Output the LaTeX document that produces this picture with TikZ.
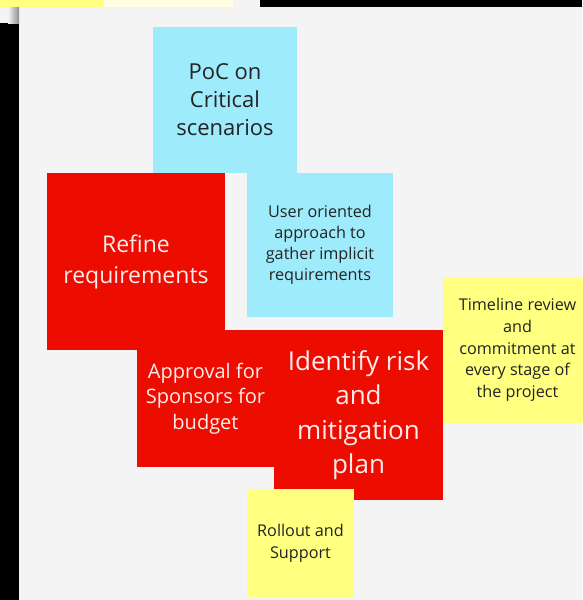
\documentclass[tikz,border=0pt]{standalone}
\usepackage{fontspec}
\setmainfont{Open Sans}

\definecolor{boardgray}{RGB}{244,244,244}
\definecolor{notecyan}{RGB}{158,235,252}
\definecolor{notered}{RGB}{236,12,0}
\definecolor{noteyellow}{RGB}{255,255,128}
\definecolor{paleyellow}{RGB}{255,253,226}
\definecolor{darktext}{RGB}{35,35,35}
\definecolor{lighttext}{RGB}{255,236,236}

\begin{document}
\begin{tikzpicture}[x=1pt,y=-1pt,
  note/.style={shape=rectangle, inner sep=0pt, align=center},
  cyannote/.style={note, fill=notecyan, text=darktext},
  rednote/.style={note, fill=notered, text=lighttext},
  yellownote/.style={note, fill=noteyellow, text=darktext}]
   \useasboundingbox (0,0) rectangle (582,600);
   % board and what shows round it
   \fill[boardgray] (0,0) rectangle (582,600);
   \fill[noteyellow] (0,0) rectangle (104,7);
   \fill[paleyellow] (104,0) rectangle (233,7);
   \fill[black] (260,0) rectangle (582,7);
   \fill[black] (0,23) rectangle (19,600);
   \shade[left color=boardgray, right color=black!45] (8,7) rectangle (19,23);

   \path (225,100) node[cyannote, minimum width=144pt, minimum height=146pt,
     font={\fontsize{22}{28}\selectfont}] (poc)
   {PoC on\\Critical\\scenarios};
   \path (136,261.5) node[rednote, minimum width=178pt, minimum height=177pt,
     font={\fontsize{23}{31}\selectfont}] (refine)
   {Refine\\requirements};
   \path (320,245) node[cyannote, minimum width=146pt, minimum height=144pt,
     font={\fontsize{16.2}{21}\selectfont}] (user)
   {User oriented\\approach to\\gather implicit\\requirements};
   \path (205.5,398.5) node[rednote, minimum width=137pt, minimum height=137pt,
     font={\fontsize{20}{25.5}\selectfont}] (approval)
   {Approval for\\Sponsors for\\budget};
   \path (358.5,415) node[rednote, minimum width=169pt, minimum height=170pt,
     font={\fontsize{26}{34.5}\selectfont}] (risk)
   {Identify risk\\and\\mitigation\\plan};
   \path (517.5,350) node[yellownote, minimum width=149pt, minimum height=146pt,
     font={\fontsize{16.2}{21.7}\selectfont}] (timeline)
   {Timeline review\\and\\commitment at\\every stage of\\the project};
   \path (300.5,543) node[yellownote, minimum width=107pt, minimum height=108pt,
     font={\fontsize{16.2}{22}\selectfont}] (rollout)
   {Rollout and\\Support};
\end{tikzpicture}
\end{document}
